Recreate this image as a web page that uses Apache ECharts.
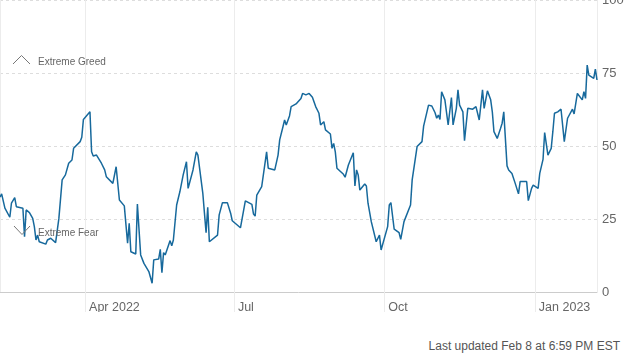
<!DOCTYPE html>
<html>
<head>
<meta charset="utf-8">
<script src="https://cdn.jsdelivr.net/npm/echarts@6/dist/echarts.min.js"></script>
<style>
  body { margin: 0; background: #fff; }
  #chart { width: 628px; height: 312px; }
  #updated { position: absolute; right: 8px; top: 339px; line-height: 16px;
    font: 12px "Liberation Sans", Arial, sans-serif; color: #555; }
</style>
</head>
<body>
<div id="chart"></div>
<div id="updated">Last updated Feb 8 at 6:59 PM EST</div>
<script>
var dates = [
  '2022-02-08','2022-02-09','2022-02-11','2022-02-14','2022-02-15','2022-02-17','2022-02-18','2022-02-22','2022-02-23','2022-02-24',
  '2022-02-26','2022-02-28','2022-03-01','2022-03-02','2022-03-03','2022-03-04','2022-03-08','2022-03-09','2022-03-11','2022-03-14',
  '2022-03-16','2022-03-18','2022-03-20','2022-03-22','2022-03-24','2022-03-25','2022-03-29','2022-03-30','2022-03-31','2022-04-04',
  '2022-04-05','2022-04-06','2022-04-08','2022-04-11','2022-04-13','2022-04-14','2022-04-18','2022-04-20','2022-04-22','2022-04-25',
  '2022-04-27','2022-04-28','2022-04-29','2022-05-02','2022-05-03','2022-05-05','2022-05-07','2022-05-10','2022-05-12','2022-05-13',
  '2022-05-16','2022-05-17','2022-05-18','2022-05-19','2022-05-20','2022-05-23','2022-05-24','2022-05-25','2022-05-27','2022-05-29',
  '2022-05-31','2022-06-01','2022-06-02','2022-06-03','2022-06-06','2022-06-08','2022-06-09','2022-06-12','2022-06-13','2022-06-14',
  '2022-06-15','2022-06-16','2022-06-17','2022-06-21','2022-06-22','2022-06-23','2022-06-24','2022-06-27','2022-06-29','2022-06-30',
  '2022-07-01','2022-07-05','2022-07-06','2022-07-08','2022-07-10','2022-07-12','2022-07-13','2022-07-14','2022-07-15','2022-07-18',
  '2022-07-21','2022-07-22','2022-07-26','2022-07-28','2022-07-29','2022-07-31','2022-08-01','2022-08-02','2022-08-04','2022-08-05',
  '2022-08-08','2022-08-09','2022-08-11','2022-08-12','2022-08-14','2022-08-15','2022-08-16','2022-08-18','2022-08-20','2022-08-22',
  '2022-08-23','2022-08-25','2022-08-26','2022-08-29','2022-08-30','2022-08-31','2022-09-01','2022-09-02','2022-09-06','2022-09-07',
  '2022-09-09','2022-09-12','2022-09-13','2022-09-14','2022-09-15','2022-09-16','2022-09-19','2022-09-20','2022-09-21','2022-09-23',
  '2022-09-26','2022-09-27','2022-09-28','2022-09-29','2022-09-30','2022-10-03','2022-10-04','2022-10-05','2022-10-07','2022-10-10',
  '2022-10-11','2022-10-12','2022-10-13','2022-10-17','2022-10-18','2022-10-21','2022-10-24','2022-10-25','2022-10-26','2022-10-28',
  '2022-10-30','2022-11-01','2022-11-02','2022-11-03','2022-11-04','2022-11-05','2022-11-07','2022-11-09','2022-11-11','2022-11-12',
  '2022-11-14','2022-11-15','2022-11-16','2022-11-17','2022-11-18','2022-11-19','2022-11-21','2022-11-22','2022-11-24','2022-11-26',
  '2022-11-28','2022-11-30','2022-12-01','2022-12-03','2022-12-05','2022-12-06','2022-12-07','2022-12-08','2022-12-09','2022-12-11',
  '2022-12-12','2022-12-13','2022-12-15','2022-12-16','2022-12-18','2022-12-20','2022-12-22','2022-12-23','2022-12-27','2022-12-28',
  '2022-12-30','2022-12-31','2023-01-03','2023-01-04','2023-01-06','2023-01-07','2023-01-09','2023-01-11','2023-01-12','2023-01-13',
  '2023-01-15','2023-01-17','2023-01-19','2023-01-21','2023-01-22','2023-01-24','2023-01-25','2023-01-27','2023-01-28','2023-01-30',
  '2023-01-31','2023-02-01','2023-02-02','2023-02-03','2023-02-06','2023-02-07','2023-02-08'
];
var scores = [
  32.5, 33.6, 28.7, 25.6, 30.4, 32.3, 29.2, 28.7, 18.9, 28.1,
  27.2, 25.2, 22.4, 17.8, 19.5, 17.2, 16.4, 17.8, 18.4, 16.9,
  25.2, 38.4, 40.1, 44.1, 45.2, 49.2, 51.5, 53.0, 59.1, 61.7,
  48.0, 46.6, 46.9, 44.1, 41.8, 39.5, 37.2, 42.9, 31.5, 29.5,
  16.7, 23.5, 13.8, 13.0, 30.1, 12.7, 9.8, 7.0, 3.0, 11.0,
  11.3, 14.6, 6.6, 13.5, 12.7, 17.6, 15.8, 17.8, 29.8, 34.4,
  40.1, 40.6, 44.6, 35.5, 41.8, 48.0, 46.9, 33.8, 27.0, 20.3,
  29.0, 17.2, 16.7, 19.5, 26.4, 27.0, 30.6, 30.6, 27.0, 24.4,
  24.1, 22.0, 22.6, 31.2, 30.6, 30.0, 26.7, 26.0, 33.2, 36.1,
  48.0, 42.4, 41.8, 46.9, 52.1, 56.6, 58.9, 57.2, 60.3, 63.5,
  64.4, 64.4, 66.3, 68.0, 67.5, 67.1, 68.0, 66.7, 63.5, 61.2,
  57.2, 58.3, 55.5, 54.1, 49.2, 50.9, 48.0, 42.4, 40.3, 39.3,
  43.5, 47.7, 36.3, 41.8, 40.1, 34.9, 37.0, 36.3, 30.4, 24.1,
  17.2, 17.8, 19.5, 14.4, 15.0, 22.4, 29.8, 30.6, 21.5, 20.3,
  18.0, 18.0, 24.1, 29.8, 38.4, 49.8, 51.5, 56.8, 57.4, 64.0,
  63.7, 61.4, 59.5, 60.6, 59.1, 68.6, 65.8, 57.2, 66.6, 57.2,
  62.9, 69.2, 64.0, 63.7, 61.7, 51.8, 62.9, 62.3, 62.6, 63.5,
  58.9, 69.2, 62.9, 68.9, 65.8, 61.7, 54.9, 54.6, 52.6, 56.0,
  57.8, 61.7, 43.2, 41.8, 40.6, 37.2, 33.6, 37.8, 37.8, 31.3,
  35.5, 36.6, 35.5, 40.6, 45.4, 54.6, 46.9, 49.2, 54.9, 61.2,
  61.7, 62.6, 51.5, 59.5, 60.1, 62.6, 61.0, 68.0, 68.3, 65.8,
  68.6, 66.3, 77.7, 74.3, 73.2, 76.3, 72.6
];
var tickDates = ['2022-04-01', '2022-07-01', '2022-10-01', '2023-01-01'];
var tickLabels = ['Apr 2022', 'Jul', 'Oct', 'Jan 2023'];
var yTicks = [0, 25, 50, 75, 100];

var font = '"Liberation Sans", Arial, sans-serif';
var DAY = 24 * 3600 * 1000;

function tickLabel(val) {
  var d = new Date(val);
  for (var i = 0; i < tickDates.length; i++) {
    var t = new Date(tickDates[i] + 'T00:00:00');
    if (Math.abs(t - d) < DAY) return tickLabels[i];
  }
  return '';
}

var seriesData = dates.map(function (d, i) { return [d, scores[i]]; });

var myChart = echarts.init(document.getElementById('chart'));
var option = {
  backgroundColor: '#fff',
  animation: false,
  grid: { left: 0, right: 31, top: 0, bottom: 20, outerBoundsMode: 'none' },
  xAxis: {
    type: 'time',
    min: dates[0],
    max: dates[dates.length - 1],
    minInterval: 100 * DAY,
    maxInterval: 100 * DAY,
    axisLine: { lineStyle: { color: '#cccccc', width: 1 } },
    axisTick: { show: true, length: 20, lineStyle: { color: '#ececec' } },
    splitLine: { show: true, lineStyle: { color: '#ececec' } },
    axisLabel: {
      formatter: tickLabel,
      align: 'left',
      padding: [0, 0, 0, 4],
      margin: 9,
      color: '#666',
      fontSize: 12.5,
      fontFamily: font
    }
  },
  yAxis: {
    type: 'value',
    position: 'right',
    min: yTicks[0],
    max: yTicks[yTicks.length - 1],
    interval: 25,
    axisLine: { show: false },
    axisTick: { show: false },
    splitLine: { lineStyle: { color: '#dddddd', type: [3, 3] } },
    axisLabel: { color: '#666', fontSize: 13, margin: 5, fontFamily: font }
  },
  graphic: [
    { type: 'polyline', z: 10, shape: { points: [[13, 64], [21.5, 55.5], [30, 64]] },
      style: { stroke: '#777', lineWidth: 1, fill: null } },
    { type: 'text', z: 10, x: 38, y: 62,
      style: { text: 'Extreme Greed', fill: '#666', font: '10px ' + font, verticalAlign: 'middle' } },
    { type: 'polyline', z: 10, shape: { points: [[14, 226], [22, 234.5], [30, 226]] },
      style: { stroke: '#777', lineWidth: 1, fill: null } },
    { type: 'text', z: 10, x: 38, y: 233,
      style: { text: 'Extreme Fear', fill: '#666', font: '10px ' + font, verticalAlign: 'middle' } }
  ],
  series: [
    {
      name: 'Fear & Greed',
      type: 'line',
      data: seriesData,
      symbol: 'none',
      lineStyle: { color: '#17699c', width: 1.5 }
    }
  ]
};
myChart.setOption(option);
</script>
</body>
</html>
